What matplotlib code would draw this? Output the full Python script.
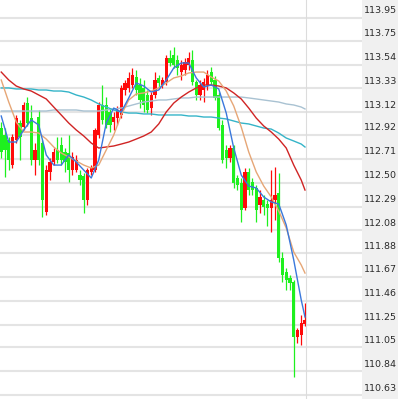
import matplotlib
matplotlib.use("Agg")
import matplotlib.pyplot as plt
from matplotlib.patches import Rectangle

# ---------------- data ----------------
opens = [112.981,112.920,112.876,112.655,112.876,113.025,112.990,113.201,113.069,112.700,
         113.078,112.849,112.242,112.594,112.682,112.788,112.832,112.770,112.761,112.611,
         112.611,112.567,112.559,112.347,112.594,112.611,112.920,113.184,113.184,113.122,
         113.034,113.069,113.096,113.316,113.334,113.360,113.430,113.360,113.334,113.272,
         113.157,113.272,113.422,113.360,113.386,113.598,113.624,113.580,113.474,113.492,
         113.536,113.580,113.386,113.272,113.316,113.360,113.474,113.404,113.272,113.008,
         112.788,112.717,112.805,112.541,112.497,112.277,112.594,112.506,112.453,112.303,
         112.347,112.312,112.277,112.347,112.409,111.836,111.713,111.660,111.625,111.141,
         111.158,111.255]
highs = [113.034,112.981,112.902,112.928,113.096,113.052,113.210,113.254,113.184,112.849,
         113.140,112.876,112.655,112.717,112.805,112.902,112.902,112.805,112.920,112.770,
         112.744,112.611,112.585,112.629,112.655,112.981,113.210,113.360,113.254,113.157,
         113.122,113.175,113.360,113.404,113.474,113.510,113.492,113.422,113.404,113.316,
         113.298,113.474,113.448,113.430,113.624,113.668,113.695,113.624,113.580,113.598,
         113.651,113.668,113.404,113.404,113.422,113.492,113.519,113.439,113.298,113.052,
         112.832,112.832,112.832,112.567,112.541,112.629,112.629,112.541,112.479,112.435,
         112.391,112.347,112.611,112.638,112.585,111.889,111.748,111.687,111.643,111.220,
         111.335,111.440]
lows = [112.717,112.550,112.611,112.629,112.849,112.700,112.964,112.999,112.655,112.567,
        112.655,112.198,112.215,112.523,112.655,112.673,112.655,112.594,112.506,112.567,
        112.594,112.479,112.233,112.303,112.567,112.594,112.893,113.017,112.981,112.946,
        112.964,113.008,113.069,113.272,113.298,113.334,113.272,113.157,113.122,113.113,
        113.096,113.246,113.334,113.334,113.360,113.527,113.510,113.448,113.404,113.448,
        113.492,113.360,113.228,113.228,113.210,113.316,113.360,113.228,112.964,112.673,
        112.629,112.682,112.453,112.435,112.154,112.259,112.391,112.391,112.154,112.233,
        112.215,112.118,112.065,112.171,111.801,111.625,111.555,111.555,110.789,111.088,
        111.070,111.238]
closes = [112.770,112.788,112.700,112.902,113.069,112.902,113.184,113.025,112.700,112.788,
          112.700,112.347,112.611,112.682,112.770,112.700,112.700,112.682,112.611,112.726,
          112.700,112.523,112.347,112.611,112.629,112.964,113.184,113.052,113.008,113.008,
          113.078,113.140,113.334,113.378,113.422,113.448,113.316,113.228,113.184,113.140,
          113.272,113.404,113.378,113.404,113.598,113.554,113.536,113.510,113.536,113.563,
          113.598,113.386,113.272,113.360,113.386,113.448,113.386,113.246,112.981,112.700,
          112.717,112.805,112.497,112.479,112.259,112.594,112.435,112.435,112.259,112.374,
          112.286,112.277,112.347,112.391,111.836,111.687,111.643,111.616,111.141,111.202,
          111.264,111.291]

ma_idx = [0,2,4,6,8,10,12,14,16,18,20,22,24,26,28,30,32,34,36,38,40,
          42,44,46,48,50,52,54,56,58,60,62,64,66,68,70,72,74,76,78,80,81]
ma_blue = [113.087,112.858,112.858,112.964,113.052,113.008,112.744,112.655,112.655,112.744,
           112.682,112.611,112.541,112.700,113.025,113.157,113.122,113.246,113.378,113.351,
           113.298,113.316,113.404,113.510,113.554,113.554,113.422,113.342,113.360,113.325,
           113.113,112.805,112.567,112.470,112.453,112.374,112.330,112.312,112.127,111.819,
           111.467,111.317]
ma_tan = [113.404,113.210,113.034,112.946,112.946,112.937,112.884,112.814,112.761,112.726,
          112.691,112.655,112.629,112.655,112.788,112.920,113.096,113.228,113.281,113.290,
          113.307,113.334,113.378,113.422,113.439,113.466,113.474,113.474,113.430,113.395,
          113.307,113.175,112.990,112.770,112.594,112.470,112.374,112.250,112.101,111.889,
          111.775,111.704]
ma_red = [113.474,113.404,113.351,113.325,113.307,113.272,113.237,113.166,113.096,113.025,
          112.964,112.911,112.849,112.805,112.814,112.823,112.840,112.858,112.884,112.911,
          112.946,113.017,113.122,113.201,113.254,113.298,113.334,113.360,113.360,113.351,
          113.334,113.290,113.237,113.157,113.069,112.999,112.946,112.884,112.805,112.655,
          112.523,112.435]
ma_teal = [113.334,113.334,113.325,113.325,113.325,113.316,113.316,113.307,113.307,113.298,
           113.272,113.254,113.228,113.193,113.166,113.140,113.122,113.113,113.113,113.105,
           113.105,113.096,113.096,113.096,113.096,113.087,113.087,113.078,113.078,113.069,
           113.061,113.043,113.025,113.017,112.999,112.981,112.972,112.937,112.893,112.867,
           112.840,112.814]
ma_light = [113.131,113.131,113.131,113.131,113.131,113.131,113.131,113.140,113.140,113.140,
            113.140,113.131,113.131,113.131,113.140,113.149,113.157,113.175,113.193,113.210,
            113.219,113.228,113.228,113.237,113.246,113.246,113.254,113.254,113.254,113.254,
            113.254,113.254,113.254,113.246,113.237,113.228,113.219,113.210,113.193,113.184,
            113.166,113.149]

tick_labels = ["113.95","113.75","113.54","113.33","113.12","112.92","112.71","112.50",
               "112.29","112.08","111.88","111.67","111.46","111.25","111.05","110.84","110.63"]

# ---------------- figure ----------------
W, H = 398, 399
fig = plt.figure(figsize=(W/100, H/100), dpi=100)
fig.patch.set_facecolor("white")

ylim = (110.595, 114.1085)

# background axes (grid, label strip)
bg = fig.add_axes([0, 0, 1, 1])
bg.set_xlim(0, W)
bg.set_ylim(*ylim)
bg.axis("off")
bg.add_patch(Rectangle((362, ylim[0]), W-362, ylim[1]-ylim[0], color="#f0f0f0", lw=0, zorder=0))
for lab in tick_labels:
    v = float(lab)
    bg.plot([0, 362], [v, v], color="#e4e4e4", lw=1.5, zorder=1, solid_capstyle="butt")
    bg.annotate(lab, xy=(364, v), xytext=(0, 7), textcoords="offset pixels",
                ha="left", va="center", fontsize=6.8, color="#2a2a2a",
                family="DejaVu Sans", zorder=3)
bg.plot([306, 306], list(ylim), color="#dcdcdc", lw=0.8, zorder=2)

# main chart axes
ax = fig.add_axes([0, 0, 306/W, 1])
ax.patch.set_alpha(0)
ax.set_xlim(-0.33, 81.27)
ax.set_ylim(*ylim)
ax.axis("off")

up_c = "#ff0a0a"
dn_c = "#1ef01e"
for i in range(len(opens)):
    o, h, l, c = opens[i], highs[i], lows[i], closes[i]
    col = up_c if c >= o else dn_c
    ax.plot([i, i], [l, h], color=col, lw=0.9, zorder=3, solid_capstyle="butt")
    b = min(o, c)
    hh = max(abs(c - o), 0.006)
    ax.bar(i, hh, bottom=b, width=0.9, color=col, lw=0, zorder=4)

ax.plot(ma_idx, ma_light, color="#a9c2d2", lw=1.0, zorder=5)
ax.plot(ma_idx, ma_teal, color="#35b4c8", lw=1.0, zorder=5)
ax.plot(ma_idx, ma_red, color="#d02424", lw=1.0, zorder=6)
ax.plot(ma_idx, ma_tan, color="#e6a676", lw=1.0, zorder=6)
ax.plot(ma_idx, ma_blue, color="#3a78dc", lw=1.0, zorder=7)

fig.savefig("out.png", dpi=100)
